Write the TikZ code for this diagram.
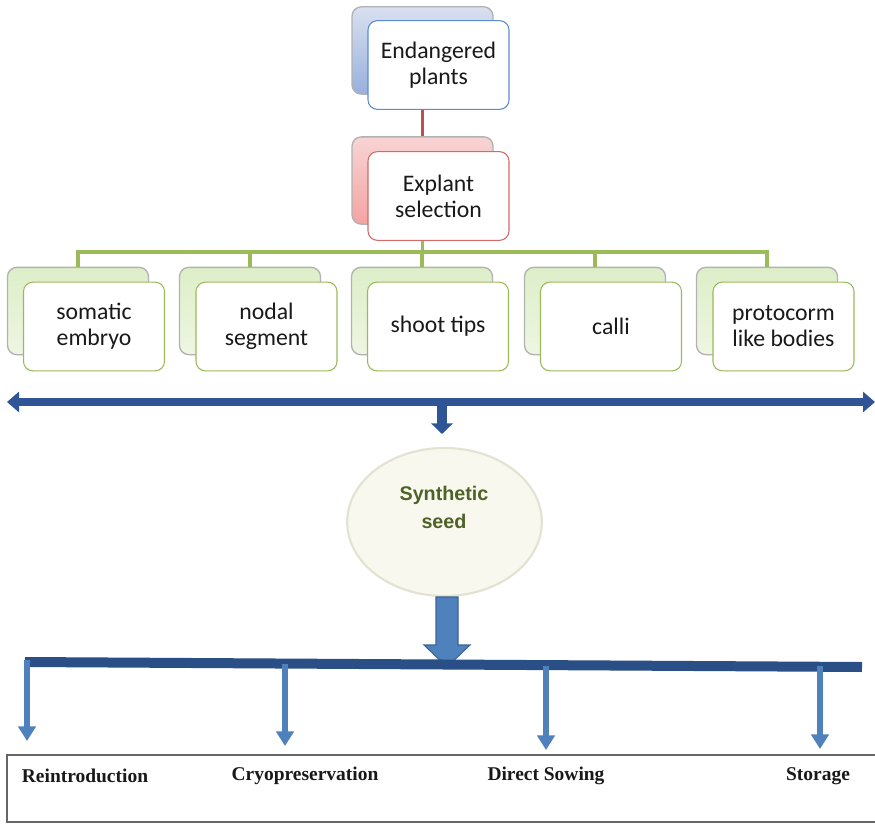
\documentclass[tikz,border=0pt]{standalone}
\usepackage{fontspec}
\setmainfont{Carlito}
\newfontfamily\arialfont{Liberation Sans}
\newfontfamily\timesfont{Liberation Serif}
\usetikzlibrary{arrows.meta,shapes.geometric}
\definecolor{blueedge}{HTML}{5B8BD0}
\definecolor{redline}{HTML}{C0504D}
\definecolor{rededge}{HTML}{D46A67}
\definecolor{greenline}{HTML}{9BBB59}
\definecolor{darkbar}{HTML}{2F5597}
\definecolor{darkbar2}{HTML}{2A4E86}
\definecolor{midblue}{HTML}{4F81BD}
\definecolor{arrowedge}{HTML}{3B6397}
\definecolor{seedgreen}{HTML}{4F6228}
\definecolor{seedfill}{HTML}{F8F8EF}
\definecolor{seededge}{HTML}{E4E2D2}
\definecolor{bluetop}{HTML}{D9E0F0}
\definecolor{bluebot}{HTML}{98B0DD}
\definecolor{redtop}{HTML}{F8D4D4}
\definecolor{redbot}{HTML}{F3A3A3}
\definecolor{greentop}{HTML}{DDEEC8}
\definecolor{greenbot}{HTML}{EEF6E2}
\tikzset{
  backbox/.style={draw=gray!60, line width=1pt, rounded corners=7pt,
    minimum width=105.75pt, minimum height=65.5pt},
  frontbox/.style={draw, fill=white, line width=0.8pt, rounded corners=7pt,
    minimum width=105.75pt, minimum height=66.5pt, align=center,
    text=black!90, font=\fontsize{17.8}{19.5}\selectfont},
  bluebox/.style={backbox, top color=bluetop, bottom color=bluebot},
  redbox/.style={backbox, top color=redtop, bottom color=redbot},
  greenbox/.style={backbox, top color=greentop, bottom color=greenbot},
  gline/.style={draw=greenline, line width=2.8pt},
  downarrow/.style={draw=midblue, line width=4.5pt, -{Triangle[width=13pt,length=11pt]}},
  outlabel/.style={font=\timesfont\bfseries\fontsize{14.6}{16}\selectfont, text=black!90},
}
\begin{document}
\begin{tikzpicture}[x=0.75pt,y=-0.75pt]
\useasboundingbox (0,0) rectangle (875,824);
\fill[white] (0,0) rectangle (875,824);

% back boxes
\node[bluebox] (eb) at (422.5,50.5) {};
\node[redbox] (xb) at (422.5,180.5) {};
\node[greenbox] (c1b) at (78,311) {};
\node[greenbox] (c2b) at (250,311) {};
\node[greenbox] (c3b) at (422,311) {};
\node[greenbox] (c4b) at (595,311) {};
\node[greenbox] (c5b) at (767,311) {};

% connectors
\draw[draw=redline, line width=2.5pt] (eb.south) -- (xb.north);
\coordinate (hub) at (422.5,252);
\draw[gline] (xb.south) -- (hub);
\draw[gline] (c1b.north) |- (hub) -| (c5b.north);
\draw[gline] (c2b.north) -- (c2b.north |- hub);
\draw[gline] (c3b.north) -- (c3b.north |- hub);
\draw[gline] (c4b.north) -- (c4b.north |- hub);

% front boxes
\node[frontbox, draw=blueedge] (e) at (438.5,65) {Endangered\\plants};
\node[frontbox, draw=rededge] (x) at (438.5,196) {Explant\\selection};
\node[frontbox, draw=greenline] (c1) at (94,326.5) {somatic\\embryo};
\node[frontbox, draw=greenline] (c2) at (266.5,326.5) {nodal\\segment};
\node[frontbox, draw=greenline] (c3) at (438,326.5) {shoot tips};
\node[frontbox, draw=greenline] (c4) at (611,326.5) {calli};
\node[frontbox, draw=greenline] (c5) at (783.5,326.5) {protocorm\\like bodies};

% double arrow
\coordinate (dl) at (7,402);
\coordinate (dr) at (875,402);
\draw[draw=darkbar, line width=6.5pt, {Triangle[width=15pt,length=9pt]}-{Triangle[width=15pt,length=9pt]}] (dl) -- (dr);
\coordinate (ds) at (442,400);
\coordinate (dt) at (442,434);
\draw[draw=darkbar, line width=7.5pt, -{Triangle[width=16pt,length=8pt]}] (ds) -- (dt);

% synthetic seed
\node[ellipse, draw=seededge, fill=seedfill, line width=1.6pt, minimum width=146pt, minimum height=111pt] (seed) at (444.5,522) {};
\node[font=\arialfont\bfseries\fontsize{14.8}{21}\selectfont, text=seedgreen, align=center] (seedt) at (444,507) {Synthetic\\seed};

% big arrow
\draw[fill=midblue, draw=arrowedge, line width=0.8pt]
  (436,597) -- (458,597) -- (458,645) -- (470,645) -- (447,667) -- (424,645) -- (436,645) -- cycle;

% bottom bar
\coordinate (bl) at (25,662);
\coordinate (br) at (862,667);
\draw[draw=darkbar2, line width=7.5pt] (bl) -- (br);

% bottom box
\draw[draw=black!60, line width=1.1pt] (880,755) -- (7,755) -- (7,822) -- (880,822);

% labels
\node[outlabel] (r1) at (85,776) {Reintroduction};
\node[outlabel] (r2) at (305,776) {Cryopreservation};
\node[outlabel] (r3) at (546,776) {Direct Sowing};
\node[outlabel] (r4) at (818,776) {Storage};

% down arrows
\coordinate (s1) at (27,660);   \coordinate (t1) at (27,741);
\coordinate (s2) at (285,664);  \coordinate (t2) at (285,746);
\coordinate (s3) at (546,666);  \coordinate (t3) at (546,750);
\coordinate (s4) at (820,666);  \coordinate (t4) at (820,749);
\draw[downarrow] (s1) -- (t1);
\draw[downarrow] (s2) -- (t2);
\draw[downarrow] (s3) -- (t3);
\draw[downarrow] (s4) -- (t4);
\end{tikzpicture}
\end{document}
